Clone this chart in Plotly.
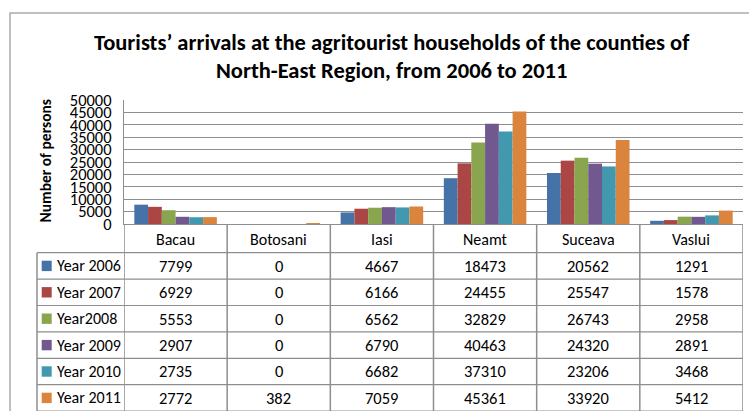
import plotly.graph_objects as go

# ---------------- data ----------------
counties = ["Bacau", "Botosani", "Iasi", "Neamt", "Suceava", "Vaslui"]
series_names = ["Year 2006", "Year 2007", "Year2008", "Year 2009", "Year 2010", "Year 2011"]
year_2006 = [7799, 0, 4667, 18473, 20562, 1291]
year_2007 = [6929, 0, 6166, 24455, 25547, 1578]
year_2008 = [5553, 0, 6562, 32829, 26743, 2958]
year_2009 = [2907, 0, 6790, 40463, 24320, 2891]
year_2010 = [2735, 0, 6682, 37310, 23206, 3468]
year_2011 = [2772, 382, 7059, 45361, 33920, 5412]
y_ticks = [0, 5000, 10000, 15000, 20000, 25000, 30000, 35000, 40000, 45000, 50000]
title_lines = ["Tourists\u2019 arrivals at the agritourist households of the counties of",
               "North-East Region, from 2006 to 2011"]
y_title = "Number of persons"

series_values = [year_2006, year_2007, year_2008, year_2009, year_2010, year_2011]
colors = ["#4572A7", "#AA4643", "#89A54E", "#71588F", "#4198AF", "#DB843D"]

# ---------------- geometry (pixels) ----------------
W, H = 749, 411
PL, PR, PT, PB = 124, 743, 100, 224     # plot area
FONT = "Carlito, Calibri, Lato, sans-serif"
LINE = "#8E8E8E"


def xp(px):
    return (px - PL) / (PR - PL)


def yp(py):
    return (PB - py) / (PB - PT)


ROW_TOP = 252.7
ROW_H = 26.4

fig = go.Figure()
for name, vals, col in zip(series_names, series_values, colors):
    fig.add_trace(go.Bar(x=counties, y=vals, name=name, marker_color=col,
                         marker_line_width=0))

shapes = []
annotations = []

# outer chart border
shapes.append(dict(type="rect", xref="paper", yref="paper",
                   x0=xp(10), x1=xp(770), y0=yp(13), y1=yp(430),
                   line=dict(color="#ABABAB", width=1.5)))

# title
for i, t in enumerate(title_lines):
    annotations.append(dict(text="<b>%s</b>" % t, xref="paper", yref="paper",
                            x=xp(391.5), y=yp(42 + 28 * i), xanchor="center", yanchor="middle",
                            showarrow=False, font=dict(family=FONT, size=22.5, color="#000")))

# y axis title
annotations.append(dict(text="<b>%s</b>" % y_title, xref="paper", yref="paper",
                        x=xp(45), y=yp(161.5), textangle=-90, xanchor="center", yanchor="middle",
                        showarrow=False, font=dict(family=FONT, size=15.5, color="#000")))

# category labels (header row)
for c in counties:
    annotations.append(dict(text=c, xref="x", yref="paper", x=c, y=yp(239.5),
                            xanchor="center", yanchor="middle", showarrow=False,
                            font=dict(family=FONT, size=16, color="#000")))

# table vertical lines
for i in range(len(counties) + 1):
    shapes.append(dict(type="line", xref="x", yref="paper", x0=i - 0.5, x1=i - 0.5,
                       y0=yp(PB), y1=yp(420), line=dict(color=LINE, width=1.5)))
shapes.append(dict(type="line", xref="paper", yref="paper", x0=xp(37), x1=xp(37),
                   y0=yp(ROW_TOP), y1=yp(420), line=dict(color=LINE, width=1.5)))

# table rows
for k, (name, vals, col) in enumerate(zip(series_names, series_values, colors)):
    top = ROW_TOP + ROW_H * k
    cy = top + ROW_H / 2
    shapes.append(dict(type="line", xref="paper", yref="paper", x0=xp(37), x1=xp(PR),
                       y0=yp(top), y1=yp(top), line=dict(color=LINE, width=1.2)))
    shapes.append(dict(type="rect", xref="paper", yref="paper", x0=xp(41.7), x1=xp(51.7),
                       y0=yp(cy - 5.2), y1=yp(cy + 5.2), fillcolor=col, line=dict(width=0)))
    annotations.append(dict(text=name, xref="paper", yref="paper", x=xp(54.5), y=yp(cy),
                            xanchor="left", yanchor="middle", showarrow=False,
                            font=dict(family=FONT, size=16, color="#000")))
    for c, v in zip(counties, vals):
        annotations.append(dict(text=str(v), xref="x", yref="paper", x=c, y=yp(cy),
                                xanchor="center", yanchor="middle", showarrow=False,
                                font=dict(family=FONT, size=16.5, color="#000")))
shapes.append(dict(type="line", xref="paper", yref="paper", x0=xp(37), x1=xp(PR),
                   y0=yp(ROW_TOP + ROW_H * 6), y1=yp(ROW_TOP + ROW_H * 6),
                   line=dict(color=LINE, width=1.2)))

fig.update_layout(
    width=W, height=H,
    margin=dict(l=PL, r=W - PR, t=PT, b=H - PB, pad=0),
    paper_bgcolor="white", plot_bgcolor="white",
    barmode="group", bargap=0.2, bargroupgap=0,
    showlegend=False,
    shapes=shapes, annotations=annotations,
    font=dict(family=FONT, color="#000"),
)
fig.update_xaxes(range=[-0.5, len(counties) - 0.5], showticklabels=False, ticks="",
                 showgrid=False, showline=True, linecolor=LINE, linewidth=1.2, zeroline=False)
fig.update_yaxes(range=[0, 50000], tickvals=y_ticks, ticktext=[str(t) for t in y_ticks],
                 showgrid=True, gridcolor=LINE, gridwidth=1.2, showline=True, linecolor=LINE,
                 linewidth=1.2, zeroline=False, ticks="", ticklabelstandoff=8,
                 tickfont=dict(family=FONT, size=16.5, color="#000"))

fig.write_html("out.html")
